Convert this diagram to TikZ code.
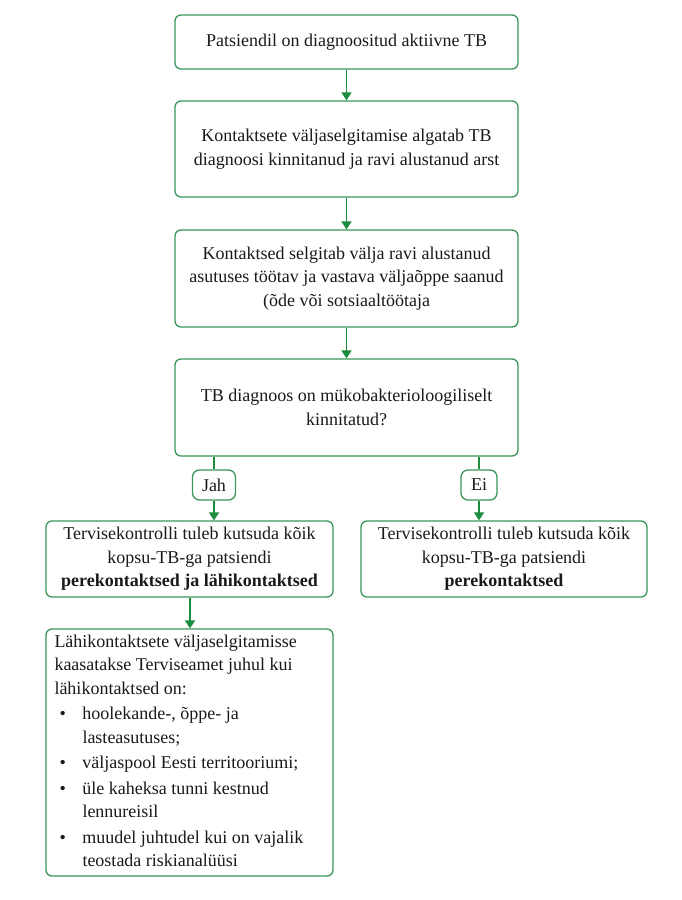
\documentclass[tikz,border=0pt]{standalone}
\usepackage{fontspec}
\setmainfont{Liberation Serif}
\usetikzlibrary{arrows.meta}
\definecolor{boxgreen}{RGB}{58,150,88}
\definecolor{arrgreen}{RGB}{28,140,62}
\definecolor{txt}{RGB}{25,25,25}
\begin{document}
\begin{tikzpicture}[x=1pt,y=-1pt,
  box/.style={draw=boxgreen,line width=1.3pt,rounded corners=6pt,align=center,inner sep=0pt,text=txt,font=\fontsize{18}{23.5}\selectfont},
  lbl/.style={box,rounded corners=7pt},
  arr/.style={draw=arrgreen,line width=1.8pt,-{Triangle[width=10pt,length=8pt]}},
  ln/.style={draw=arrgreen,line width=1.8pt}]
\useasboundingbox (0,0) rectangle (681,900);
\node[box,minimum width=343pt,minimum height=54pt] (b1) at (346.5,42) {Patsiendil on diagnoositud aktiivne TB};
\node[box,minimum width=343pt,minimum height=96pt] (b2) at (346.5,149) {Kontaktsete väljaselgitamise algatab TB\\diagnoosi kinnitanud ja ravi alustanud arst};
\node[box,minimum width=343pt,minimum height=97pt] (b3) at (346.5,278.5) {Kontaktsed selgitab välja ravi alustanud\\asutuses töötav ja vastava väljaõppe saanud\\(õde või sotsiaaltöötaja};
\node[box,minimum width=343pt,minimum height=97pt] (b4) at (346.5,407.5) {TB diagnoos on mükobakterioloogiliselt\\kinnitatud?};
\node[lbl,minimum width=43pt,minimum height=30pt] (jah) at (214,485) {Jah};
\node[lbl,minimum width=36pt,minimum height=30pt] (ei) at (479,485) {Ei};
\node[box,minimum width=287pt,minimum height=76pt] (b5) at (189.5,559) {Tervisekontrolli tuleb kutsuda kõik\\kopsu-TB-ga patsiendi\\\textbf{perekontaktsed ja lähikontaktsed}};
\node[box,minimum width=286pt,minimum height=76pt] (b6) at (504,559) {Tervisekontrolli tuleb kutsuda kõik\\kopsu-TB-ga patsiendi\\\textbf{perekontaktsed}};
\node[box,minimum width=287pt,minimum height=247pt,align=left,font=\fontsize{18}{23.5}\selectfont] (b7) at (189.5,752.5) {%
\begin{tabular}{@{}p{28pt}@{}p{242pt}@{}}
\multicolumn{2}{@{}l@{}}{Lähikontaktsete väljaselgitamisse}\\
\multicolumn{2}{@{}l@{}}{kaasatakse Terviseamet juhul kui}\\
\multicolumn{2}{@{}l@{}}{lähikontaktsed on:}\\[2pt]
\hspace{5pt}\textbullet & hoolekande-, õppe- ja\newline lasteasutuses;\\[2pt]
\hspace{5pt}\textbullet & väljaspool Eesti territooriumi;\\[2pt]
\hspace{5pt}\textbullet & üle kaheksa tunni kestnud\newline lennureisil\\[2pt]
\hspace{5pt}\textbullet & muudel juhtudel kui on vajalik\newline teostada riskianalüüsi
\end{tabular}};
\draw[arr] (b1) -- (b2);
\draw[arr] (b2) -- (b3);
\draw[arr] (b3) -- (b4);
\draw[ln] (jah.north |- b4.south) -- (jah.north);
\draw[ln] (ei.north |- b4.south) -- (ei.north);
\draw[arr] (jah.south) -- (jah.south |- b5.north);
\draw[arr] (ei.south) -- (ei.south |- b6.north);
\coordinate (c5) at (190,0);
\draw[arr] (c5 |- b5.south) -- (c5 |- b7.north);
\end{tikzpicture}
\end{document}
